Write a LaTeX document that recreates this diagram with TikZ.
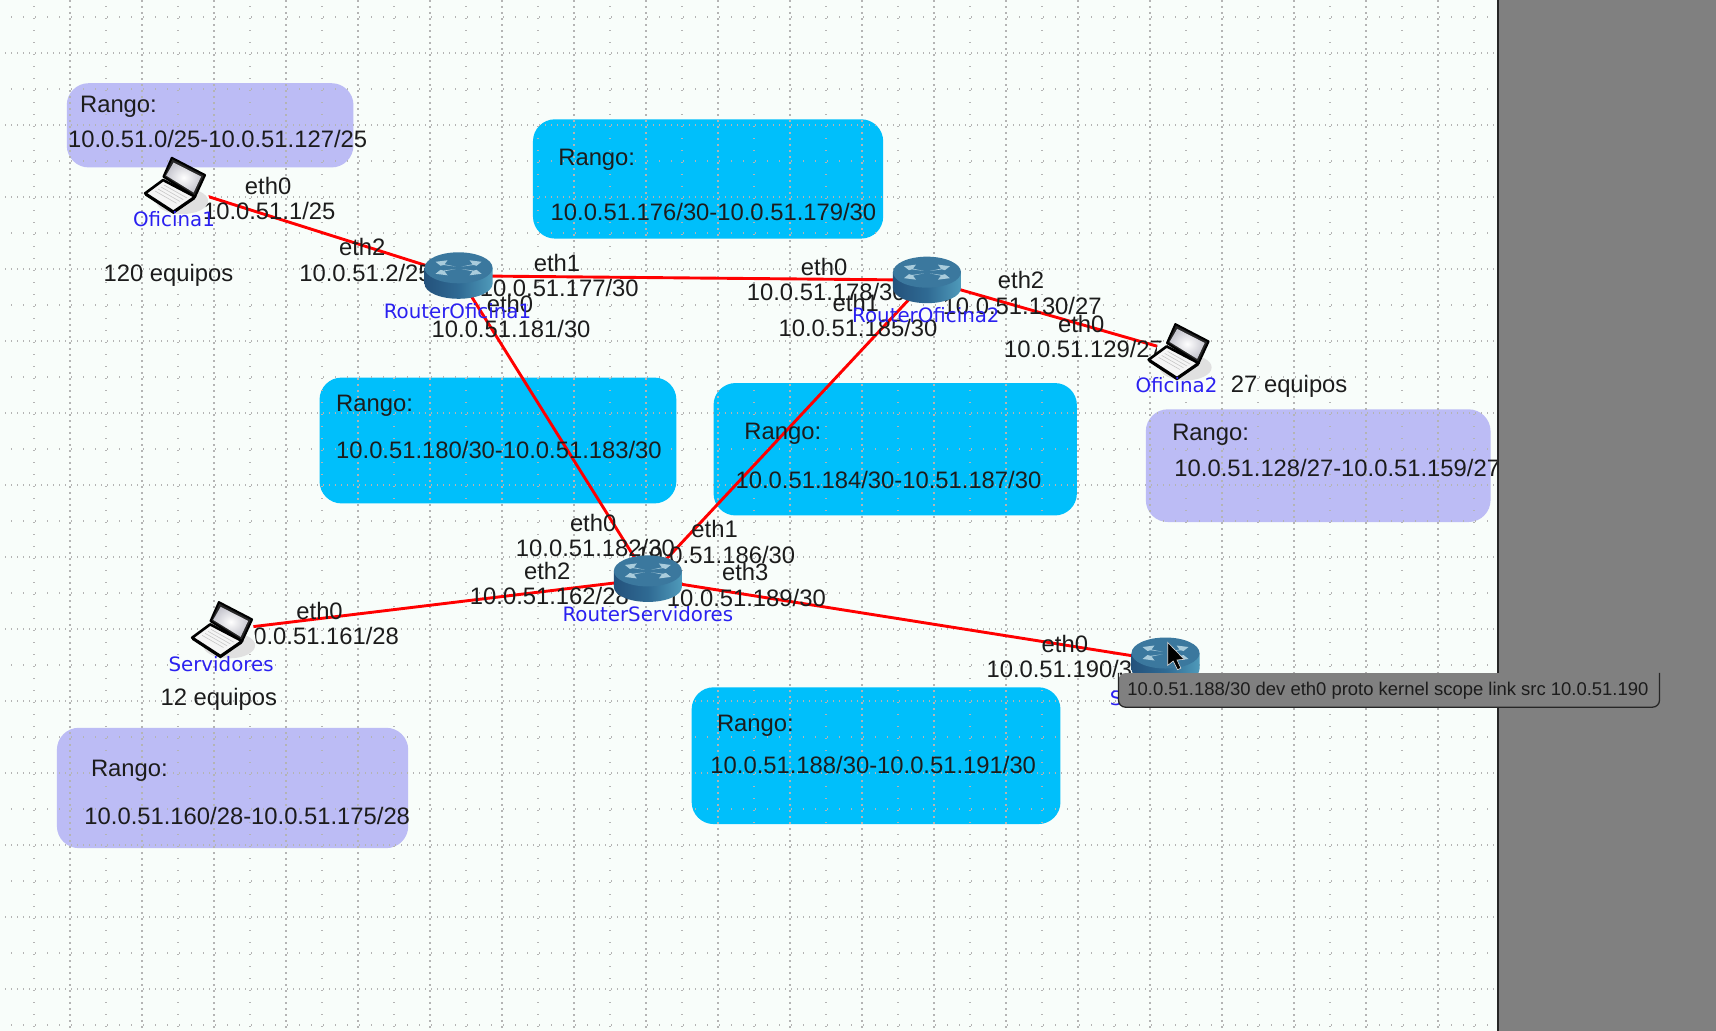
\documentclass[tikz,border=0pt]{standalone}
\usepackage{fontspec}
\setmainfont{Liberation Sans}
\newfontfamily\devfont{DejaVu Sans}
\usetikzlibrary{calc}
\definecolor{canvasbg}{HTML}{F8FDFA}
\definecolor{panelgray}{HTML}{808080}
\definecolor{lilac}{HTML}{BCBCF5}
\definecolor{skyc}{HTML}{00BFFB}
\definecolor{griddot}{HTML}{B4B4B4}
\definecolor{devblue}{HTML}{2A20F0}
\definecolor{inktext}{HTML}{1C1C1C}
\definecolor{rtdark}{HTML}{24527C}
\definecolor{rtmid}{HTML}{2F6A93}
\definecolor{rtlight}{HTML}{4F9ABA}
\definecolor{rttop}{HTML}{3B789E}
\definecolor{rtmark}{HTML}{A9CCDC}
\tikzset{
  lilacbox/.style={fill=lilac,rounded corners=22pt,draw=none},
  skybox/.style={fill=skyc,rounded corners=22pt,draw=none},
  gridsparse/.style={griddot,line width=1.2pt,dash pattern=on 1.2pt off 10.8pt},
  griddense/.style={griddot,line width=1.2pt,dash pattern=on 1.2pt off 4.8pt},
  link/.style={red,line width=2.9pt},
  txt/.style={font=\fontsize{23.8}{28}\selectfont,text=inktext,inner sep=0pt,text height=17pt,text depth=0pt},
  txtl/.style={txt,anchor=west},
  devlabel/.style={font=\devfont\fontsize{19.8}{24}\selectfont,text=devblue,inner sep=0pt,text height=15pt,text depth=0pt},
  routerpic/.pic={
    \begin{scope}[x=1pt,y=-1pt]
      \shade[left color=rtdark,right color=rtlight,middle color=rtmid]
        (-34,-8) -- (-34,8) arc[start angle=180,end angle=0,x radius=34,y radius=15] -- (34,-8) -- cycle;
      \fill[rttop] (0,-8) ellipse[x radius=34,y radius=15.5];
      \foreach \sx in {-1,1}{\foreach \sy in {-1,1}{
        \fill[rtmark] (\sx*3,-8+\sy*1.2) -- (\sx*14,-8+\sy*3.5) -- (\sx*11,-8+\sy*7.5) -- (\sx*23,-8+\sy*6) -- (\sx*18,-8+\sy*2) -- (\sx*15,-8+\sy*2.8) -- cycle;
      }}
    \end{scope}
  },
  laptoppic/.pic={
    \begin{scope}[x=1pt,y=-1pt]
      \fill[canvasbg] (30,-11) -- (34,13) -- (18,14) -- cycle;
      \fill[canvasbg] (-21,-9) -- (-11,-12) -- (-9,0) -- (-22,0) -- cycle;
      \fill[black!12] (7,15) ellipse[x radius=26,y radius=13];
      \fill[white!92!gray,draw=black,line width=2.6pt,line join=round] (-30,7.3) -- (-12,-6) -- (20,10.7) -- (-1.7,25.7) -- cycle;
      \fill[black] (-30,7.3) -- (-1.7,25.7) -- (20,10.7) -- (20,13) -- (-1.7,28) -- (-30,9.5) -- cycle;
      \fill[black!85,draw=black,line width=2pt,line join=round] (-3.3,-28.3) -- (30,-11) -- (20,10.7) -- (-11.7,-9.3) -- cycle;
      \shade[inner color=white,outer color=blue!15!black!22] (-1.5,-23.5) -- (26,-9.5) -- (18.5,6.5) -- (-9,-10.5) -- cycle;
      \foreach \t in {.2,.4,.6,.8}{
        \draw[black!22,line width=.6pt] ($(-23,7)!\t!(-8,-3)$) -- ($(-2,19)!\t!(15,10)$);
      }
    \end{scope}
  }
}
\begin{document}
\begin{tikzpicture}[x=1.0944pt,y=-1.0944pt]
\useasboundingbox (0,0) rectangle (1568,942);
\fill[canvasbg] (0,0) rectangle (1568,942);
% range boxes
\fill[lilacbox] (61,76) rectangle (323,153);
\fill[skybox] (487,109) rectangle (807,218);
\fill[skybox] (292,345) rectangle (618,460);
\fill[skybox] (652,350) rectangle (984,471);
\fill[lilacbox] (1047,374) rectangle (1362,477);
\fill[skybox] (632,628) rectangle (969,753);
\fill[lilacbox] (52,665) rectangle (373,775);
% dotted grid, in full pixel units
\begin{scope}[x=1pt,y=-1pt]
  \foreach \k in {0,...,20}{
    \draw[gridsparse] (34+72*\k,6.1) -- (34+72*\k,1031);
    \draw[griddense] (70+72*\k,0.4) -- (70+72*\k,1031);
  }
  \foreach \k in {0,...,14}{
    \draw[gridsparse] (11.1,17+72*\k) -- (1498,17+72*\k);
    \draw[griddense] (5.1,53+72*\k) -- (1498,53+72*\k);
  }
\end{scope}
% device anchors
\coordinate (lapA) at (160,170);
\coordinate (lapB) at (1077,322);
\coordinate (lapC) at (203,576);
\coordinate (rtA) at (419,252);
\coordinate (rtB) at (847,256);
\coordinate (rtC) at (592,529);
\coordinate (rtD) at (1065,604);
% links
\draw[link] (lapA) -- (rtA);
\draw[link] (rtA) -- (rtB);
\draw[link] (rtA) -- (rtC);
\draw[link] (rtB) -- (rtC);
\draw[link] (rtB) -- (lapB);
\draw[link] (rtC) -- (lapC);
\draw[link] (rtC) -- (rtD);
% box texts
\node[txtl] (t1a) at (73,95) {Rango:};
\node[txtl] (t1b) at (62,127) {10.0.51.0/25-10.0.51.127/25};
\node[txtl] (t2a) at (510,143) {Rango:};
\node[txtl] (t2b) at (503,194) {10.0.51.176/30-10.0.51.179/30};
\node[txtl] (t3a) at (307,368) {Rango:};
\node[txtl] (t3b) at (307,411) {10.0.51.180/30-10.0.51.183/30};
\node[txtl] (t4a) at (680,394) {Rango:};
\node[txtl] (t4b) at (672,439) {10.0.51.184/30-10.51.187/30};
\node[txtl] (t5a) at (1071,395) {Rango:};
\node[txtl] (t5b) at (1073,428) {10.0.51.128/27-10.0.51.159/27};
\node[txtl] (t6a) at (655,661) {Rango:};
\node[txtl] (t6b) at (649,699) {10.0.51.188/30-10.0.51.191/30};
\node[txtl] (t7a) at (83,702) {Rango:};
\node[txtl] (t7b) at (77,746) {10.0.51.160/28-10.0.51.175/28};
% counts
\node[txt] (c1) at (154,249) {120 equipos};
\node[txt] (c2) at (1178,351) {27 equipos};
\node[txt] (c3) at (200,637) {12 equipos};
% interface labels
\node[txt] (i1) at (245,170) {eth0};
\node[txt] (i1b) at (246,193) {10.0.51.1/25};
\node[txt] (i2) at (331,226) {eth2};
\node[txt] (i2b) at (334,249) {10.0.51.2/25};
\node[txt] (i3) at (509,240) {eth1};
\node[txt] (i3b) at (511,263) {10.0.51.177/30};
\node[txt] (i4) at (466,278) {eth0};
\node[txt] (i4b) at (467,301) {10.0.51.181/30};
\node[txt] (i5) at (753,244) {eth0};
\node[txt] (i5b) at (755,267) {10.0.51.178/30};
\node[txt] (i6) at (782,277) {eth1};
\node[txt] (i6b) at (784,300) {10.0.51.185/30};
\node[txt] (i7) at (933,256) {eth2};
\node[txt] (i7b) at (934,280) {10.0.51.130/27};
\node[txt] (i8) at (988,296) {eth0};
\node[txt] (i8b) at (990,319) {10.0.51.129/27};
\node[txt] (i9) at (542,478) {eth0};
\node[txt] (i9b) at (544,501) {10.0.51.182/30};
\node[txt] (i10) at (653,483) {eth1};
\node[txt] (i10b) at (654,507) {10.0.51.186/30};
\node[txt] (i11) at (500,522) {eth2};
\node[txt] (i11b) at (502,545) {10.0.51.162/28};
\node[txt] (i12) at (681,523) {eth3};
\node[txt] (i12b) at (682,546) {10.0.51.189/30};
\node[txt] (i13) at (292,558) {eth0};
\node[txt] (i13b) at (292,581) {10.0.51.161/28};
\node[txt] (i14) at (973,588) {eth0};
\node[txt] (i14b) at (974,611) {10.0.51.190/30};
% device icons
\pic at (lapA) {laptoppic};
\pic at (lapB) {laptoppic};
\pic at (lapC) {laptoppic};
\pic at (rtA) {routerpic};
\pic at (rtB) {routerpic};
\pic at (rtC) {routerpic};
\pic at (rtD) {routerpic};
% device names
\node[devlabel] (n1) at (159,200) {Oficina1};
\node[devlabel] (n2) at (418,284) {RouterOficina1};
\node[devlabel] (n3) at (846,288) {RouterOficina2};
\node[devlabel] (n4) at (1075,352) {Oficina2};
\node[devlabel] (n5) at (592,561) {RouterServidores};
\node[devlabel] (n6) at (202,607) {Servidores};
\node[devlabel,anchor=west] (n7) at (1014,638) {S};
% side panel
\fill[panelgray] (1369,0) rectangle (1568,942);
\draw[black!85,line width=2pt] (1369,0) -- (1369,942);
% tooltip
\node[fill=panelgray,rounded corners=7pt,minimum width=494*1.0944pt,minimum height=31*1.0944pt,inner sep=0pt,anchor=west] (tip) at (1022,630.5) {};
\draw[black!85,line width=1.3pt,rounded corners=7pt] (tip.north west) -- (tip.south west) -- (tip.south east) -- (tip.north east);
\node[font=\fontsize{18.45}{22}\selectfont,text=inktext,inner sep=0pt,anchor=west,text height=13pt,text depth=0pt] (tiptext) at (1030,629.5) {10.0.51.188/30 dev eth0 proto kernel scope link src 10.0.51.190};
% mouse pointer
\fill[black,draw=white!85!black,line width=.6pt] (1067,587) -- (1067,608) -- (1072,604) -- (1076,612) -- (1079,610.5) -- (1075.5,603) -- (1082,602.5) -- cycle;
\end{tikzpicture}
\end{document}
